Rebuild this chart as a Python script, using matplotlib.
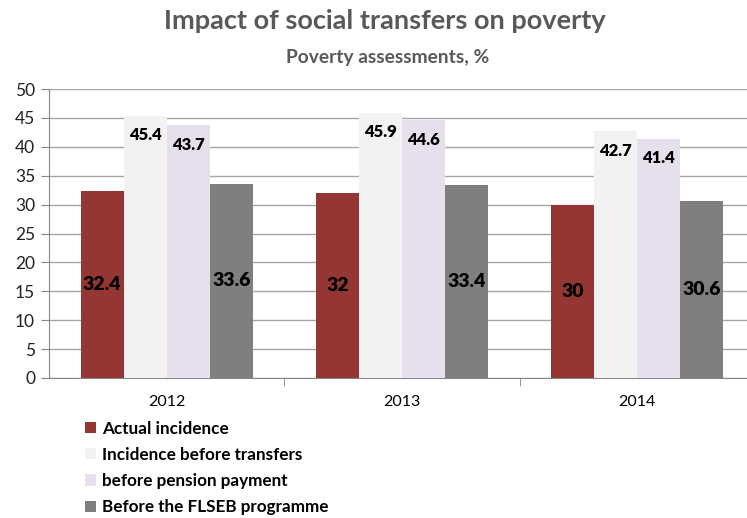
import matplotlib.pyplot as plt
import numpy as np

plt.rcParams['font.family'] = ['Lato', 'DejaVu Sans']

# Data
years = ['2012', '2013', '2014']
series_names = ['Actual incidence', 'Incidence before transfers',
                'before pension payment', 'Before the FLSEB programme']
actual = [32.4, 32, 30]
before_transfers = [45.4, 45.9, 42.7]
before_pension = [43.7, 44.6, 41.4]
before_flseb = [33.6, 33.4, 30.6]

colors = ['#943634', '#F2F2F2', '#E5E0EC', '#7F7F7F']
values = [actual, before_transfers, before_pension, before_flseb]

fig = plt.figure(figsize=(7.47, 5.18), dpi=100)
ax = fig.add_axes([49 / 747, 1 - 378 / 518, 706 / 747, 289 / 518])

x = np.arange(len(years))
w = 0.183
for i, (vals, col) in enumerate(zip(values, colors)):
    pos = x + (i - 1.5) * w
    bars = ax.bar(pos, vals, w, color=col, label=series_names[i], zorder=3)
    for b, v in zip(bars, vals):
        txt = f'{v:g}'
        if i in (1, 2):
            # label just inside the top of the bar
            ax.text(b.get_x() + w / 2, v - 3.4, txt, ha='center', va='center',
                    fontsize=12, fontweight='heavy', color='black', zorder=4)
        else:
            ax.text(b.get_x() + w / 2, v / 2, txt, ha='center', va='center',
                    fontsize=14, fontweight='heavy', color='black', zorder=4)

ax.set_xlim(-0.5, 2.5)
ax.set_ylim(0, 50)
ax.set_yticks(np.arange(0, 51, 5))
ax.set_xticks(x)
ax.set_xticklabels(years, fontsize=11.5)
ax.set_xticks([0.5, 1.5], minor=True)
ax.tick_params(axis='x', which='major', length=0, pad=12)
ax.tick_params(axis='x', which='minor', length=6, color='#878787', direction='out')
ax.tick_params(axis='y', length=6, color='#878787', labelsize=12.5, pad=4,
               labelcolor='#222222')
ax.grid(axis='y', color='#A6A6A6', linewidth=1, zorder=0)

for s in ['top', 'right']:
    ax.spines[s].set_visible(False)
ax.spines['left'].set_color('#878787')
ax.spines['bottom'].set_color('#878787')

fig.text(385 / 747, 1 - 21 / 518, 'Impact of social transfers on poverty',
         ha='center', va='center', fontsize=19.5, fontweight='bold', color='#595959')
fig.text(388 / 747, 1 - 57 / 518, 'Poverty assessments, %',
         ha='center', va='center', fontsize=13.8, fontweight='bold', color='#595959')

leg = fig.legend(loc='upper left', bbox_to_anchor=(76 / 747, 1 - 412 / 518),
                 frameon=False, prop={'weight': 'bold', 'size': 12.3},
                 handlelength=0.65, handleheight=0.65, handletextpad=0.4,
                 labelspacing=0.6, borderpad=0)

plt.savefig('out.png', dpi=100)
